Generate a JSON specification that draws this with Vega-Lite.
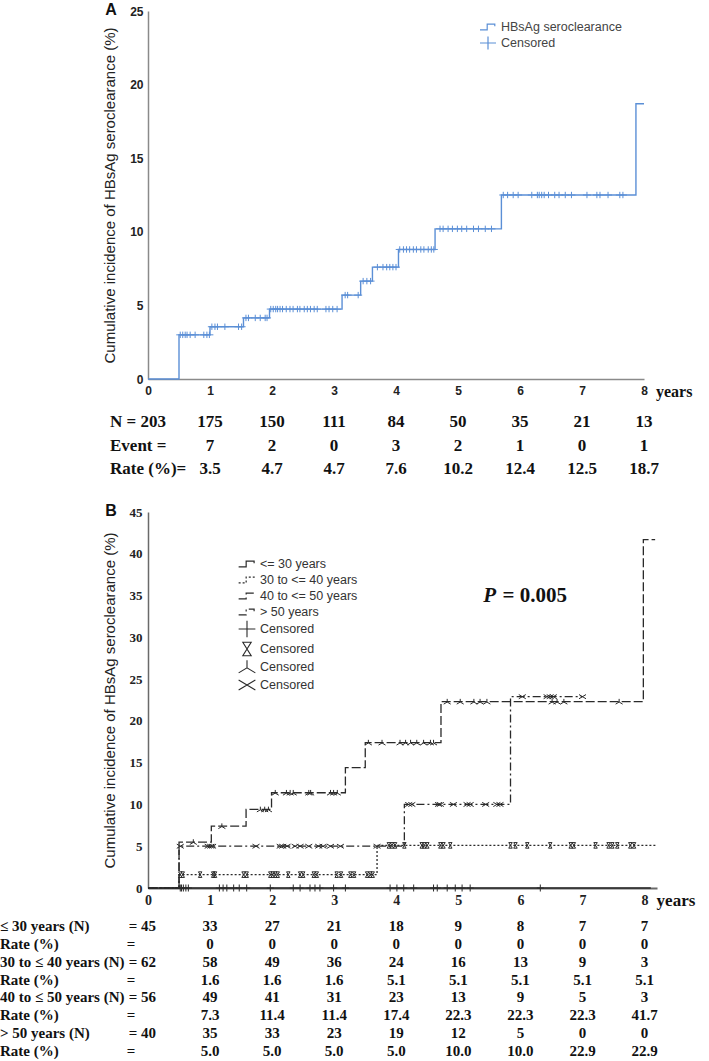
{
  "$schema": "https://vega.github.io/schema/vega-lite/v6.json",
  "background": "white",
  "padding": {"top": 2, "left": 0, "right": 0, "bottom": 0},
  "spacing": 20,
  "bounds": "flush",
  "config": {
    "view": {"stroke": null},
    "legend": {"labelFont": "Liberation Sans", "labelFontSize": 12, "labelColor": "#333", "padding": 0, "rowPadding": 0, "symbolSize": 256, "labelOffset": 4, "title": null}
  },
  "resolve": {"scale": {"x": "independent", "y": "independent", "shape": "independent", "strokeDash": "independent"}},
  "datasets": {
    "kmA": [
      {"t": 0, "v": 0}, {"t": 0.5, "v": 3.0}, {"t": 1.0, "v": 3.55}, {"t": 1.54, "v": 4.15}, {"t": 1.96, "v": 4.75},
      {"t": 3.13, "v": 5.7}, {"t": 3.43, "v": 6.65}, {"t": 3.62, "v": 7.6}, {"t": 4.04, "v": 8.8}, {"t": 4.63, "v": 10.2},
      {"t": 5.70, "v": 12.5}, {"t": 7.87, "v": 18.7}, {"t": 8.0, "v": 18.7}
    ],
    "cenA": [
      {"type": "Censored", "t": 0.52, "v": 3.0}, {"type": "Censored", "t": 0.56, "v": 3.0}, {"type": "Censored", "t": 0.60, "v": 3.0}, {"type": "Censored", "t": 0.63, "v": 3.0}, {"type": "Censored", "t": 0.68, "v": 3.0}, {"type": "Censored", "t": 0.76, "v": 3.0}, {"type": "Censored", "t": 0.90, "v": 3.0}, {"type": "Censored", "t": 0.95, "v": 3.0}, {"type": "Censored", "t": 0.99, "v": 3.0},
      {"type": "Censored", "t": 1.03, "v": 3.55}, {"type": "Censored", "t": 1.08, "v": 3.55}, {"type": "Censored", "t": 1.12, "v": 3.55}, {"type": "Censored", "t": 1.24, "v": 3.55}, {"type": "Censored", "t": 1.46, "v": 3.55}, {"type": "Censored", "t": 1.51, "v": 3.55},
      {"type": "Censored", "t": 1.58, "v": 4.15}, {"type": "Censored", "t": 1.62, "v": 4.15}, {"type": "Censored", "t": 1.73, "v": 4.15}, {"type": "Censored", "t": 1.81, "v": 4.15}, {"type": "Censored", "t": 1.89, "v": 4.15}, {"type": "Censored", "t": 1.92, "v": 4.15},
      {"type": "Censored", "t": 1.98, "v": 4.75}, {"type": "Censored", "t": 2.02, "v": 4.75}, {"type": "Censored", "t": 2.06, "v": 4.75}, {"type": "Censored", "t": 2.09, "v": 4.75}, {"type": "Censored", "t": 2.13, "v": 4.75}, {"type": "Censored", "t": 2.17, "v": 4.75}, {"type": "Censored", "t": 2.23, "v": 4.75}, {"type": "Censored", "t": 2.29, "v": 4.75}, {"type": "Censored", "t": 2.34, "v": 4.75}, {"type": "Censored", "t": 2.41, "v": 4.75}, {"type": "Censored", "t": 2.45, "v": 4.75}, {"type": "Censored", "t": 2.52, "v": 4.75}, {"type": "Censored", "t": 2.57, "v": 4.75}, {"type": "Censored", "t": 2.62, "v": 4.75}, {"type": "Censored", "t": 2.68, "v": 4.75}, {"type": "Censored", "t": 2.73, "v": 4.75}, {"type": "Censored", "t": 2.87, "v": 4.75}, {"type": "Censored", "t": 2.92, "v": 4.75}, {"type": "Censored", "t": 2.98, "v": 4.75}, {"type": "Censored", "t": 3.05, "v": 4.75},
      {"type": "Censored", "t": 3.18, "v": 5.7}, {"type": "Censored", "t": 3.22, "v": 5.7}, {"type": "Censored", "t": 3.39, "v": 5.7},
      {"type": "Censored", "t": 3.47, "v": 6.65}, {"type": "Censored", "t": 3.53, "v": 6.65}, {"type": "Censored", "t": 3.59, "v": 6.65},
      {"type": "Censored", "t": 3.70, "v": 7.6}, {"type": "Censored", "t": 3.79, "v": 7.6}, {"type": "Censored", "t": 3.85, "v": 7.6}, {"type": "Censored", "t": 3.90, "v": 7.6}, {"type": "Censored", "t": 3.95, "v": 7.6}, {"type": "Censored", "t": 4.00, "v": 7.6},
      {"type": "Censored", "t": 4.06, "v": 8.8}, {"type": "Censored", "t": 4.12, "v": 8.8}, {"type": "Censored", "t": 4.17, "v": 8.8}, {"type": "Censored", "t": 4.22, "v": 8.8}, {"type": "Censored", "t": 4.28, "v": 8.8}, {"type": "Censored", "t": 4.33, "v": 8.8}, {"type": "Censored", "t": 4.40, "v": 8.8}, {"type": "Censored", "t": 4.45, "v": 8.8}, {"type": "Censored", "t": 4.52, "v": 8.8}, {"type": "Censored", "t": 4.57, "v": 8.8}, {"type": "Censored", "t": 4.61, "v": 8.8},
      {"type": "Censored", "t": 4.71, "v": 10.2}, {"type": "Censored", "t": 4.76, "v": 10.2}, {"type": "Censored", "t": 4.84, "v": 10.2}, {"type": "Censored", "t": 4.91, "v": 10.2}, {"type": "Censored", "t": 4.99, "v": 10.2}, {"type": "Censored", "t": 5.06, "v": 10.2}, {"type": "Censored", "t": 5.14, "v": 10.2}, {"type": "Censored", "t": 5.25, "v": 10.2}, {"type": "Censored", "t": 5.33, "v": 10.2}, {"type": "Censored", "t": 5.44, "v": 10.2}, {"type": "Censored", "t": 5.54, "v": 10.2},
      {"type": "Censored", "t": 5.73, "v": 12.5}, {"type": "Censored", "t": 5.80, "v": 12.5}, {"type": "Censored", "t": 5.89, "v": 12.5}, {"type": "Censored", "t": 5.97, "v": 12.5}, {"type": "Censored", "t": 6.19, "v": 12.5}, {"type": "Censored", "t": 6.28, "v": 12.5}, {"type": "Censored", "t": 6.31, "v": 12.5}, {"type": "Censored", "t": 6.35, "v": 12.5}, {"type": "Censored", "t": 6.39, "v": 12.5}, {"type": "Censored", "t": 6.46, "v": 12.5}, {"type": "Censored", "t": 6.56, "v": 12.5}, {"type": "Censored", "t": 6.63, "v": 12.5}, {"type": "Censored", "t": 6.73, "v": 12.5}, {"type": "Censored", "t": 6.83, "v": 12.5}, {"type": "Censored", "t": 7.08, "v": 12.5}, {"type": "Censored", "t": 7.24, "v": 12.5}, {"type": "Censored", "t": 7.29, "v": 12.5}, {"type": "Censored", "t": 7.42, "v": 12.5}, {"type": "Censored", "t": 7.61, "v": 12.5}, {"type": "Censored", "t": 7.66, "v": 12.5}
    ],
    "tabA": [
      {"row": 1, "t": 1, "val": "175"}, {"row": 1, "t": 2, "val": "150"}, {"row": 1, "t": 3, "val": "111"}, {"row": 1, "t": 4, "val": "84"}, {"row": 1, "t": 5, "val": "50"}, {"row": 1, "t": 6, "val": "35"}, {"row": 1, "t": 7, "val": "21"}, {"row": 1, "t": 8, "val": "13"},
      {"row": 2, "t": 1, "val": "7"}, {"row": 2, "t": 2, "val": "2"}, {"row": 2, "t": 3, "val": "0"}, {"row": 2, "t": 4, "val": "3"}, {"row": 2, "t": 5, "val": "2"}, {"row": 2, "t": 6, "val": "1"}, {"row": 2, "t": 7, "val": "0"}, {"row": 2, "t": 8, "val": "1"},
      {"row": 3, "t": 1, "val": "3.5"}, {"row": 3, "t": 2, "val": "4.7"}, {"row": 3, "t": 3, "val": "4.7"}, {"row": 3, "t": 4, "val": "7.6"}, {"row": 3, "t": 5, "val": "10.2"}, {"row": 3, "t": 6, "val": "12.4"}, {"row": 3, "t": 7, "val": "12.5"}, {"row": 3, "t": 8, "val": "18.7"}
    ],
    "tabAlab": [
      {"row": 1, "label": "N = 203"}, {"row": 2, "label": "Event ="}, {"row": 3, "label": "Rate (%)="}
    ],
    "kmB": [
      {"g": "<= 30 years", "t": 0, "v": 0}, {"g": "<= 30 years", "t": 8.1, "v": 0},
      {"g": "30 to <= 40 years", "t": 0, "v": 0}, {"g": "30 to <= 40 years", "t": 0.5, "v": 1.6}, {"g": "30 to <= 40 years", "t": 3.69, "v": 5.1}, {"g": "30 to <= 40 years", "t": 8.2, "v": 5.1},
      {"g": "40 to <= 50 years", "t": 0, "v": 0}, {"g": "40 to <= 50 years", "t": 0.5, "v": 5.5}, {"g": "40 to <= 50 years", "t": 1.02, "v": 7.4}, {"g": "40 to <= 50 years", "t": 1.58, "v": 9.4}, {"g": "40 to <= 50 years", "t": 1.99, "v": 11.4}, {"g": "40 to <= 50 years", "t": 3.18, "v": 14.4}, {"g": "40 to <= 50 years", "t": 3.5, "v": 17.4}, {"g": "40 to <= 50 years", "t": 4.72, "v": 22.3}, {"g": "40 to <= 50 years", "t": 7.98, "v": 41.7}, {"g": "40 to <= 50 years", "t": 8.17, "v": 41.7},
      {"g": "> 50 years", "t": 0, "v": 0}, {"g": "> 50 years", "t": 0.5, "v": 5.0}, {"g": "> 50 years", "t": 4.13, "v": 10.0}, {"g": "> 50 years", "t": 5.84, "v": 22.9}, {"g": "> 50 years", "t": 7.0, "v": 22.9}
    ],
    "cenB": [
      {"g": "c1", "t": 0.52, "v": 0}, {"g": "c1", "t": 0.54, "v": 0}, {"g": "c1", "t": 0.57, "v": 0}, {"g": "c1", "t": 0.61, "v": 0}, {"g": "c1", "t": 0.65, "v": 0}, {"g": "c1", "t": 1.15, "v": 0}, {"g": "c1", "t": 1.21, "v": 0}, {"g": "c1", "t": 1.27, "v": 0}, {"g": "c1", "t": 1.38, "v": 0}, {"g": "c1", "t": 1.47, "v": 0}, {"g": "c1", "t": 1.59, "v": 0}, {"g": "c1", "t": 1.97, "v": 0}, {"g": "c1", "t": 2.34, "v": 0}, {"g": "c1", "t": 2.45, "v": 0}, {"g": "c1", "t": 2.61, "v": 0}, {"g": "c1", "t": 2.69, "v": 0}, {"g": "c1", "t": 2.77, "v": 0}, {"g": "c1", "t": 2.99, "v": 0}, {"g": "c1", "t": 3.18, "v": 0}, {"g": "c1", "t": 3.90, "v": 0}, {"g": "c1", "t": 4.01, "v": 0}, {"g": "c1", "t": 4.12, "v": 0}, {"g": "c1", "t": 4.28, "v": 0}, {"g": "c1", "t": 4.60, "v": 0}, {"g": "c1", "t": 4.66, "v": 0}, {"g": "c1", "t": 4.82, "v": 0}, {"g": "c1", "t": 4.95, "v": 0}, {"g": "c1", "t": 5.06, "v": 0}, {"g": "c1", "t": 5.19, "v": 0}, {"g": "c1", "t": 6.32, "v": 0},
      {"g": "c2", "t": 0.52, "v": 1.6}, {"g": "c2", "t": 0.56, "v": 1.6}, {"g": "c2", "t": 0.84, "v": 1.6}, {"g": "c2", "t": 1.05, "v": 1.6}, {"g": "c2", "t": 1.08, "v": 1.6}, {"g": "c2", "t": 1.54, "v": 1.6}, {"g": "c2", "t": 1.59, "v": 1.6}, {"g": "c2", "t": 1.97, "v": 1.6}, {"g": "c2", "t": 2.01, "v": 1.6}, {"g": "c2", "t": 2.05, "v": 1.6}, {"g": "c2", "t": 2.09, "v": 1.6}, {"g": "c2", "t": 2.26, "v": 1.6}, {"g": "c2", "t": 2.45, "v": 1.6}, {"g": "c2", "t": 2.50, "v": 1.6}, {"g": "c2", "t": 2.67, "v": 1.6}, {"g": "c2", "t": 2.72, "v": 1.6}, {"g": "c2", "t": 3.04, "v": 1.6}, {"g": "c2", "t": 3.11, "v": 1.6}, {"g": "c2", "t": 3.26, "v": 1.6}, {"g": "c2", "t": 3.32, "v": 1.6}, {"g": "c2", "t": 3.53, "v": 1.6}, {"g": "c2", "t": 3.58, "v": 1.6}, {"g": "c2", "t": 3.62, "v": 1.6},
      {"g": "c2", "t": 3.88, "v": 5.1}, {"g": "c2", "t": 3.93, "v": 5.1}, {"g": "c2", "t": 3.98, "v": 5.1}, {"g": "c2", "t": 4.13, "v": 5.1}, {"g": "c2", "t": 4.41, "v": 5.1}, {"g": "c2", "t": 4.45, "v": 5.1}, {"g": "c2", "t": 4.50, "v": 5.1}, {"g": "c2", "t": 4.71, "v": 5.1}, {"g": "c2", "t": 4.76, "v": 5.1}, {"g": "c2", "t": 4.87, "v": 5.1}, {"g": "c2", "t": 5.84, "v": 5.1}, {"g": "c2", "t": 5.92, "v": 5.1}, {"g": "c2", "t": 6.11, "v": 5.1}, {"g": "c2", "t": 6.48, "v": 5.1}, {"g": "c2", "t": 6.81, "v": 5.1}, {"g": "c2", "t": 6.86, "v": 5.1}, {"g": "c2", "t": 7.21, "v": 5.1}, {"g": "c2", "t": 7.42, "v": 5.1}, {"g": "c2", "t": 7.48, "v": 5.1}, {"g": "c2", "t": 7.56, "v": 5.1}, {"g": "c2", "t": 7.77, "v": 5.1}, {"g": "c2", "t": 7.83, "v": 5.1},
      {"g": "c3", "t": 0.73, "v": 5.5}, {"g": "c3", "t": 1.19, "v": 7.4}, {"g": "c3", "t": 1.81, "v": 9.4}, {"g": "c3", "t": 1.88, "v": 9.4}, {"g": "c3", "t": 1.94, "v": 9.4},
      {"g": "c3", "t": 2.05, "v": 11.4}, {"g": "c3", "t": 2.23, "v": 11.4}, {"g": "c3", "t": 2.29, "v": 11.4}, {"g": "c3", "t": 2.34, "v": 11.4}, {"g": "c3", "t": 2.59, "v": 11.4}, {"g": "c3", "t": 2.62, "v": 11.4}, {"g": "c3", "t": 2.94, "v": 11.4}, {"g": "c3", "t": 2.99, "v": 11.4}, {"g": "c3", "t": 3.05, "v": 11.4},
      {"g": "c3", "t": 3.55, "v": 17.4}, {"g": "c3", "t": 3.77, "v": 17.4}, {"g": "c3", "t": 4.06, "v": 17.4}, {"g": "c3", "t": 4.15, "v": 17.4}, {"g": "c3", "t": 4.23, "v": 17.4}, {"g": "c3", "t": 4.33, "v": 17.4}, {"g": "c3", "t": 4.44, "v": 17.4}, {"g": "c3", "t": 4.55, "v": 17.4}, {"g": "c3", "t": 4.60, "v": 17.4},
      {"g": "c3", "t": 4.82, "v": 22.3}, {"g": "c3", "t": 5.03, "v": 22.3}, {"g": "c3", "t": 5.25, "v": 22.3}, {"g": "c3", "t": 5.35, "v": 22.3}, {"g": "c3", "t": 5.46, "v": 22.3}, {"g": "c3", "t": 6.51, "v": 22.3}, {"g": "c3", "t": 6.59, "v": 22.3}, {"g": "c3", "t": 6.70, "v": 22.3}, {"g": "c3", "t": 7.59, "v": 22.3},
      {"g": "c4", "t": 0.52, "v": 5.0}, {"g": "c4", "t": 0.97, "v": 5.0}, {"g": "c4", "t": 1.01, "v": 5.0}, {"g": "c4", "t": 1.04, "v": 5.0}, {"g": "c4", "t": 1.74, "v": 5.0}, {"g": "c4", "t": 2.13, "v": 5.0}, {"g": "c4", "t": 2.17, "v": 5.0}, {"g": "c4", "t": 2.24, "v": 5.0}, {"g": "c4", "t": 2.37, "v": 5.0}, {"g": "c4", "t": 2.45, "v": 5.0}, {"g": "c4", "t": 2.59, "v": 5.0}, {"g": "c4", "t": 2.75, "v": 5.0}, {"g": "c4", "t": 2.82, "v": 5.0}, {"g": "c4", "t": 2.94, "v": 5.0}, {"g": "c4", "t": 3.10, "v": 5.0}, {"g": "c4", "t": 3.69, "v": 5.0},
      {"g": "c4", "t": 4.20, "v": 10.0}, {"g": "c4", "t": 4.25, "v": 10.0}, {"g": "c4", "t": 4.68, "v": 10.0}, {"g": "c4", "t": 4.71, "v": 10.0}, {"g": "c4", "t": 4.92, "v": 10.0}, {"g": "c4", "t": 5.14, "v": 10.0}, {"g": "c4", "t": 5.19, "v": 10.0}, {"g": "c4", "t": 5.44, "v": 10.0}, {"g": "c4", "t": 5.62, "v": 10.0}, {"g": "c4", "t": 5.67, "v": 10.0},
      {"g": "c4", "t": 6.03, "v": 22.9}, {"g": "c4", "t": 6.43, "v": 22.9}, {"g": "c4", "t": 6.48, "v": 22.9}, {"g": "c4", "t": 6.53, "v": 22.9}, {"g": "c4", "t": 7.0, "v": 22.9}
    ],
    "tabB": [
      {"row": 1, "t": 1, "val": "33"}, {"row": 1, "t": 2, "val": "27"}, {"row": 1, "t": 3, "val": "21"}, {"row": 1, "t": 4, "val": "18"}, {"row": 1, "t": 5, "val": "9"}, {"row": 1, "t": 6, "val": "8"}, {"row": 1, "t": 7, "val": "7"}, {"row": 1, "t": 8, "val": "7"},
      {"row": 2, "t": 1, "val": "0"}, {"row": 2, "t": 2, "val": "0"}, {"row": 2, "t": 3, "val": "0"}, {"row": 2, "t": 4, "val": "0"}, {"row": 2, "t": 5, "val": "0"}, {"row": 2, "t": 6, "val": "0"}, {"row": 2, "t": 7, "val": "0"}, {"row": 2, "t": 8, "val": "0"},
      {"row": 3, "t": 1, "val": "58"}, {"row": 3, "t": 2, "val": "49"}, {"row": 3, "t": 3, "val": "36"}, {"row": 3, "t": 4, "val": "24"}, {"row": 3, "t": 5, "val": "16"}, {"row": 3, "t": 6, "val": "13"}, {"row": 3, "t": 7, "val": "9"}, {"row": 3, "t": 8, "val": "3"},
      {"row": 4, "t": 1, "val": "1.6"}, {"row": 4, "t": 2, "val": "1.6"}, {"row": 4, "t": 3, "val": "1.6"}, {"row": 4, "t": 4, "val": "5.1"}, {"row": 4, "t": 5, "val": "5.1"}, {"row": 4, "t": 6, "val": "5.1"}, {"row": 4, "t": 7, "val": "5.1"}, {"row": 4, "t": 8, "val": "5.1"},
      {"row": 5, "t": 1, "val": "49"}, {"row": 5, "t": 2, "val": "41"}, {"row": 5, "t": 3, "val": "31"}, {"row": 5, "t": 4, "val": "23"}, {"row": 5, "t": 5, "val": "13"}, {"row": 5, "t": 6, "val": "9"}, {"row": 5, "t": 7, "val": "5"}, {"row": 5, "t": 8, "val": "3"},
      {"row": 6, "t": 1, "val": "7.3"}, {"row": 6, "t": 2, "val": "11.4"}, {"row": 6, "t": 3, "val": "11.4"}, {"row": 6, "t": 4, "val": "17.4"}, {"row": 6, "t": 5, "val": "22.3"}, {"row": 6, "t": 6, "val": "22.3"}, {"row": 6, "t": 7, "val": "22.3"}, {"row": 6, "t": 8, "val": "41.7"},
      {"row": 7, "t": 1, "val": "35"}, {"row": 7, "t": 2, "val": "33"}, {"row": 7, "t": 3, "val": "23"}, {"row": 7, "t": 4, "val": "19"}, {"row": 7, "t": 5, "val": "12"}, {"row": 7, "t": 6, "val": "5"}, {"row": 7, "t": 7, "val": "0"}, {"row": 7, "t": 8, "val": "0"},
      {"row": 8, "t": 1, "val": "5.0"}, {"row": 8, "t": 2, "val": "5.0"}, {"row": 8, "t": 3, "val": "5.0"}, {"row": 8, "t": 4, "val": "5.0"}, {"row": 8, "t": 5, "val": "10.0"}, {"row": 8, "t": 6, "val": "10.0"}, {"row": 8, "t": 7, "val": "22.9"}, {"row": 8, "t": 8, "val": "22.9"}
    ],
    "tabBlab": [
      {"row": 1, "label": "≤ 30 years (N)", "eq": "= 45"},
      {"row": 2, "label": "Rate (%)", "eq": "="},
      {"row": 3, "label": "30 to ≤ 40 years (N)", "eq": "= 62"},
      {"row": 4, "label": "Rate (%)", "eq": "="},
      {"row": 5, "label": "40 to ≤ 50 years (N)", "eq": "= 56"},
      {"row": 6, "label": "Rate (%)", "eq": "="},
      {"row": 7, "label": "> 50 years (N)", "eq": "= 40"},
      {"row": 8, "label": "Rate (%)", "eq": "="}
    ]
  },
  "vconcat": [
    {
      "width": 496,
      "height": 368,
      "layer": [
        {
          "data": {"name": "kmA"},
          "mark": {"type": "line", "interpolate": "step-after", "color": "#5b8fd6", "strokeWidth": 1.4},
          "encoding": {
            "x": {"field": "t", "type": "quantitative", "scale": {"domain": [0, 8], "nice": false},
              "axis": {"title": null, "values": [0, 1, 2, 3, 4, 5, 6, 7, 8], "format": "d", "ticks": false, "grid": false, "labelFlush": false, "labelOverlap": false, "domainColor": "#8a8a8a", "domainWidth": 1.5, "labelFont": "Liberation Sans Narrow, Liberation Sans", "labelFontWeight": "bold", "labelFontSize": 12, "labelColor": "#222", "labelPadding": 6}},
            "y": {"field": "v", "type": "quantitative", "scale": {"domain": [0, 25], "nice": false},
              "axis": {"title": "Cumulative incidence of HBsAg seroclearance (%)", "values": [0, 5, 10, 15, 20, 25], "ticks": false, "grid": false, "domainColor": "#8a8a8a", "domainWidth": 1.5, "labelFont": "Liberation Sans Narrow, Liberation Sans", "labelFontWeight": "bold", "labelFontSize": 12, "labelColor": "#222", "labelPadding": 5, "titleFont": "Liberation Sans", "titleFontWeight": "normal", "titleFontSize": 15, "titleColor": "#222", "titlePadding": 12}}
          }
        },
        {
          "data": {"name": "cenA"},
          "mark": {"type": "point", "filled": false, "color": "#5b8fd6", "size": 64, "strokeWidth": 1, "opacity": 1},
          "encoding": {
            "x": {"field": "t", "type": "quantitative"},
            "y": {"field": "v", "type": "quantitative"},
            "shape": {"field": "type", "type": "nominal",
              "scale": {"domain": ["HBsAg seroclearance", "Censored"], "range": ["M-1,0.35H-0.1V-0.35H0.85V-0.1", "M0,-0.8V0.8M-1,0H1"]},
              "legend": {"orient": "none", "legendX": 331, "legendY": 7, "symbolStrokeColor": "#5b8fd6", "symbolFillColor": "transparent", "symbolStrokeWidth": 1.2, "symbolSize": 256, "labelColor": "#444", "labelFontSize": 12.5}}
          }
        },
        {
          "data": {"values": [{}]},
          "mark": {"type": "text", "text": "A", "font": "Liberation Sans", "fontWeight": "bold", "fontSize": 16, "color": "#111", "dx": -37, "dy": -1, "align": "center", "baseline": "middle"},
          "encoding": {"x": {"datum": 0, "type": "quantitative"}, "y": {"datum": 25, "type": "quantitative"}}
        },
        {
          "data": {"values": [{}]},
          "mark": {"type": "text", "text": "years", "font": "Liberation Serif", "fontWeight": "bold", "fontSize": 16, "color": "#111", "dx": 12, "dy": 13, "align": "left", "baseline": "middle"},
          "encoding": {"x": {"datum": 8, "type": "quantitative"}, "y": {"datum": 0, "type": "quantitative"}}
        }
      ]
    },
    {
      "width": 496,
      "height": 93,
      "layer": [
        {
          "data": {"name": "tabA"},
          "mark": {"type": "text", "font": "Liberation Serif", "fontWeight": "bold", "fontSize": 17, "color": "#111", "align": "center", "baseline": "middle"},
          "encoding": {
            "x": {"field": "t", "type": "quantitative", "scale": {"domain": [0, 8], "nice": false}, "axis": null},
            "y": {"field": "row", "type": "ordinal", "scale": {"type": "point", "padding": 1.11}, "axis": null},
            "text": {"field": "val"}
          }
        },
        {
          "data": {"name": "tabAlab"},
          "mark": {"type": "text", "font": "Liberation Serif", "fontWeight": "bold", "fontSize": 17, "color": "#111", "align": "left", "baseline": "middle", "dx": -38},
          "encoding": {
            "x": {"datum": 0, "type": "quantitative"},
            "y": {"field": "row", "type": "ordinal"},
            "text": {"field": "label"}
          }
        }
      ]
    },
    {
      "width": 509,
      "height": 376,
      "layer": [
        {
          "data": {"name": "kmB"},
          "mark": {"type": "line", "interpolate": "step-after", "color": "#2a2a2a", "strokeWidth": 1.3},
          "encoding": {
            "x": {"field": "t", "type": "quantitative", "scale": {"domain": [0, 8.2], "nice": false},
              "axis": {"title": null, "values": [0, 1, 2, 3, 4, 5, 6, 7, 8], "format": "d", "ticks": false, "grid": false, "labelFlush": false, "labelOverlap": false, "domainColor": "#6a6a6a", "domainWidth": 1.8, "labelFont": "Liberation Serif", "labelFontWeight": "bold", "labelFontSize": 14, "labelColor": "#222", "labelPadding": 5}},
            "y": {"field": "v", "type": "quantitative", "scale": {"domain": [0, 45], "nice": false},
              "axis": {"title": "Cumulative incidence of HBsAg seroclearance (%)", "values": [0, 5, 10, 15, 20, 25, 30, 35, 40, 45], "ticks": false, "grid": false, "domainColor": "#6a6a6a", "domainWidth": 1.5, "labelFont": "Liberation Serif", "labelFontWeight": "bold", "labelFontSize": 13, "labelColor": "#222", "labelPadding": 6, "titleFont": "Liberation Sans", "titleFontWeight": "normal", "titleFontSize": 15, "titleColor": "#222", "titlePadding": 12}},
            "strokeDash": {"field": "g", "type": "nominal",
              "scale": {"domain": ["<= 30 years", "30 to <= 40 years", "40 to <= 50 years", "> 50 years"], "range": [[1, 0], [2, 2], [9, 3], [8, 3, 2, 3]]},
              "legend": {"orient": "none", "legendX": 90, "legendY": 43, "symbolType": "M-1,0.35H-0.1V-0.35H0.85V-0.1", "symbolStrokeColor": "#2a2a2a", "symbolStrokeWidth": 1.2, "symbolSize": 280, "labelFontSize": 12.5}}
          }
        },
        {
          "data": {"name": "cenB"},
          "mark": {"type": "point", "filled": false, "color": "#2a2a2a", "size": 49, "strokeWidth": 1, "opacity": 1},
          "encoding": {
            "x": {"field": "t", "type": "quantitative"},
            "y": {"field": "v", "type": "quantitative"},
            "shape": {"field": "g", "type": "nominal",
              "scale": {"domain": ["c1", "c2", "c3", "c4"], "range": ["M0,-1V1M-1,0H1", "M-0.5,-0.8H0.5L-0.5,0.8H0.5Z", "M0,-0.8V0.1M-1,0.7L0,0.1L1,0.7", "M-1,-0.6L1,0.6M-1,0.6L1,-0.6"]},
              "legend": {"orient": "none", "legendX": 90, "legendY": 108, "labelExpr": "'Censored'", "symbolStrokeColor": "#2a2a2a", "symbolFillColor": "transparent", "symbolStrokeWidth": 1.1, "symbolSize": 280, "labelFontSize": 12.5}}
          }
        },
        {
          "data": {"values": [{}]},
          "mark": {"type": "text", "text": "P", "font": "Liberation Serif", "fontWeight": "bold", "fontStyle": "italic", "fontSize": 21, "color": "#111", "align": "left", "baseline": "middle"},
          "encoding": {"x": {"datum": 5.40, "type": "quantitative"}, "y": {"datum": 35, "type": "quantitative"}}
        },
        {
          "data": {"values": [{}]},
          "mark": {"type": "text", "text": "= 0.005", "font": "Liberation Serif", "fontWeight": "bold", "fontSize": 21, "color": "#111", "align": "left", "baseline": "middle"},
          "encoding": {"x": {"datum": 5.71, "type": "quantitative"}, "y": {"datum": 35, "type": "quantitative"}}
        },
        {
          "data": {"values": [{}]},
          "mark": {"type": "text", "text": "B", "font": "Liberation Sans", "fontWeight": "bold", "fontSize": 16, "color": "#111", "dx": -37, "dy": -1, "align": "center", "baseline": "middle"},
          "encoding": {"x": {"datum": 0, "type": "quantitative"}, "y": {"datum": 45, "type": "quantitative"}}
        },
        {
          "data": {"values": [{}]},
          "mark": {"type": "text", "text": "years", "font": "Liberation Serif", "fontWeight": "bold", "fontSize": 17, "color": "#111", "dx": 12, "dy": 13, "align": "left", "baseline": "middle"},
          "encoding": {"x": {"datum": 8, "type": "quantitative"}, "y": {"datum": 0, "type": "quantitative"}}
        }
      ]
    },
    {
      "width": 509,
      "height": 161,
      "layer": [
        {
          "data": {"name": "tabB"},
          "mark": {"type": "text", "font": "Liberation Serif", "fontWeight": "bold", "fontSize": 15, "color": "#111", "align": "center", "baseline": "middle"},
          "encoding": {
            "x": {"field": "t", "type": "quantitative", "scale": {"domain": [0, 8.2], "nice": false}, "axis": null},
            "y": {"field": "row", "type": "ordinal", "scale": {"type": "point", "padding": 1}, "axis": null},
            "text": {"field": "val"}
          }
        },
        {
          "data": {"name": "tabBlab"},
          "mark": {"type": "text", "font": "Liberation Serif", "fontWeight": "bold", "fontSize": 15, "color": "#111", "align": "left", "baseline": "middle", "dx": -148},
          "encoding": {
            "x": {"datum": 0, "type": "quantitative"},
            "y": {"field": "row", "type": "ordinal"},
            "text": {"field": "label"}
          }
        },
        {
          "data": {"name": "tabBlab"},
          "transform": [{"filter": "datum.row % 2 == 1"}],
          "mark": {"type": "text", "font": "Liberation Serif", "fontWeight": "bold", "fontSize": 15, "color": "#111", "align": "right", "baseline": "middle", "dx": 8},
          "encoding": {
            "x": {"datum": 0, "type": "quantitative"},
            "y": {"field": "row", "type": "ordinal"},
            "text": {"field": "eq"}
          }
        },
        {
          "data": {"name": "tabBlab"},
          "transform": [{"filter": "datum.row % 2 == 0"}],
          "mark": {"type": "text", "font": "Liberation Serif", "fontWeight": "bold", "fontSize": 15, "color": "#111", "align": "center", "baseline": "middle", "dx": -17},
          "encoding": {
            "x": {"datum": 0, "type": "quantitative"},
            "y": {"field": "row", "type": "ordinal"},
            "text": {"field": "eq"}
          }
        }
      ]
    }
  ]
}
